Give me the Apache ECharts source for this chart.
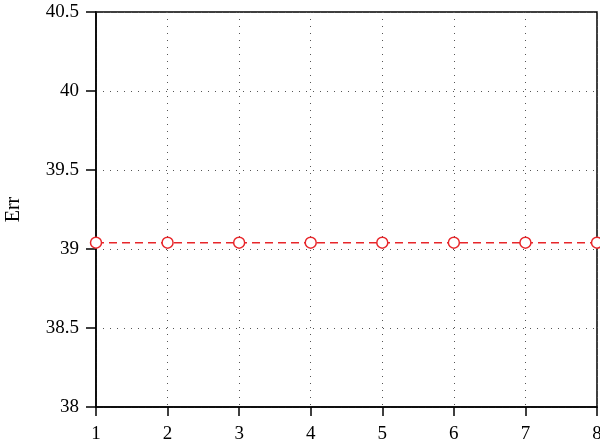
<!DOCTYPE html>
<html>
<head>
<meta charset="utf-8">
<script src="https://cdn.jsdelivr.net/npm/echarts@6/dist/echarts.min.js"></script>
<style>html,body{margin:0;padding:0;background:#fff;}#c{width:600px;height:447px;}</style>
</head>
<body>
<div id="c"></div>
<script>
const xValues = [1, 2, 3, 4, 5, 6, 7, 8];
const errValues = [39.04, 39.04, 39.04, 39.04, 39.04, 39.04, 39.04, 39.04];
const yTicks = [38, 38.5, 39, 39.5, 40, 40.5];

const font = 'Liberation Serif';
const chart = echarts.init(document.getElementById('c'));
const axisLine = { show: true, lineStyle: { color: '#000', width: 1.5 } };
const split = { show: true, lineStyle: { color: '#555', type: [1, 6], width: 1 } };
chart.setOption({
  animation: false,
  backgroundColor: '#fff',
  grid: { left: 96, right: 3, top: 12, bottom: 40, containLabel: false, outerBoundsMode: 'none',
    show: true, borderColor: '#000', borderWidth: 1.5, backgroundColor: 'transparent' },
  xAxis: {
    type: 'value', min: 1, max: 8, interval: 1,
    axisLine: axisLine,
    axisTick: { show: true, inside: false, length: 9, lineStyle: { color: '#000', width: 1.5 } },
    axisLabel: { color: '#000', fontFamily: font, fontSize: 19, margin: 18 },
    splitLine: split
  },
  yAxis: {
    type: 'value', min: 38, max: 40.5, interval: 0.5,
    name: 'Err', nameLocation: 'middle', nameGap: 72,
    nameTextStyle: { color: '#000', fontFamily: font, fontSize: 20 },
    axisLine: axisLine,
    axisTick: { show: true, inside: false, length: 10, lineStyle: { color: '#000', width: 1.5 } },
    axisLabel: { color: '#000', fontFamily: font, fontSize: 19, margin: 17,
      formatter: v => yTicks.includes(v) ? String(v) : '' },
    splitLine: split
  },
  series: [{
    type: 'line',
    data: xValues.map((x, i) => [x, errValues[i]]),
    symbol: 'circle', symbolSize: 11,
    itemStyle: { color: '#fff', borderColor: '#e8262a', borderWidth: 1.5 },
    lineStyle: { color: '#e8262a', type: [8, 5], width: 1.5 },
    clip: false
  }]
});
</script>
</body>
</html>
